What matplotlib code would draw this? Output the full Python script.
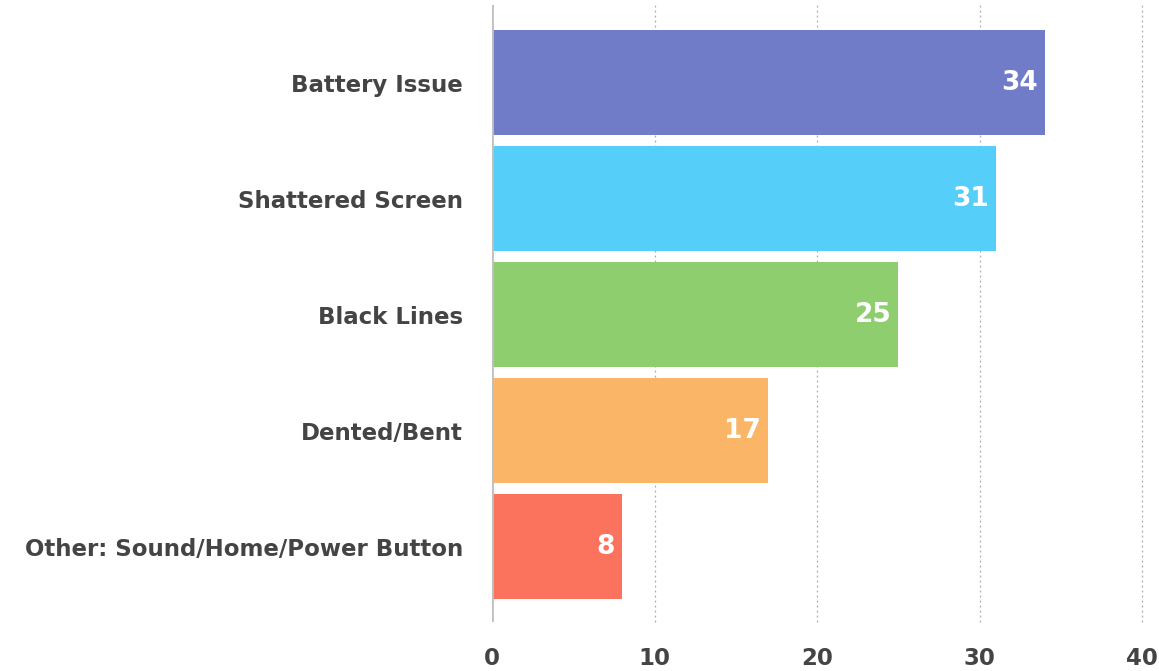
import matplotlib
matplotlib.use("Agg")
import matplotlib.pyplot as plt

categories = ["Battery Issue", "Shattered Screen", "Black Lines", "Dented/Bent",
              "Other: Sound/Home/Power Button"]
values = [34, 31, 25, 17, 8]
colors = ["#717cc9", "#55cffa", "#8fce6e", "#fbb566", "#fb735d"]
xticks = [0, 10, 20, 30, 40]

plt.rcParams['font.family'] = ['DejaVu Sans']
W, H = 1159, 671
fig = plt.figure(figsize=(W / 100, H / 100), dpi=100)
ax = fig.add_axes([492 / W, 1 - 622 / H, (1142 - 492) / W, 617 / H])

y = list(range(len(categories)))
ax.barh(y, values, height=0.905, color=colors, zorder=2)
ax.set_ylim(4.647, -0.668)
ax.set_xlim(0, 40)

for xv in xticks[1:]:
    ax.axvline(xv, color="#aaaaaa", linestyle=(0, (1.5, 2.5)), linewidth=0.9,
               zorder=1, clip_on=False)
ax.axvline(0, color="#c0c0c0", linewidth=2, zorder=3)

for yi, v in zip(y, values):
    ax.annotate(str(v), (v, yi), xytext=(-5, 0), textcoords="offset points",
                ha="right", va="center", color="white", fontsize=19,
                fontweight="bold")

ax.set_yticks(y)
ax.set_yticklabels(categories, fontsize=16.5, fontweight="bold", color="#444444")
ax.set_xticks(xticks)
ax.set_xticklabels([str(t) for t in xticks], fontsize=16.5, fontweight="bold",
                   color="#444444")
ax.tick_params(axis="y", length=0, pad=21)
ax.tick_params(axis="x", length=0, pad=18)
for s in ax.spines.values():
    s.set_visible(False)

fig.savefig("out.png", dpi=100)
